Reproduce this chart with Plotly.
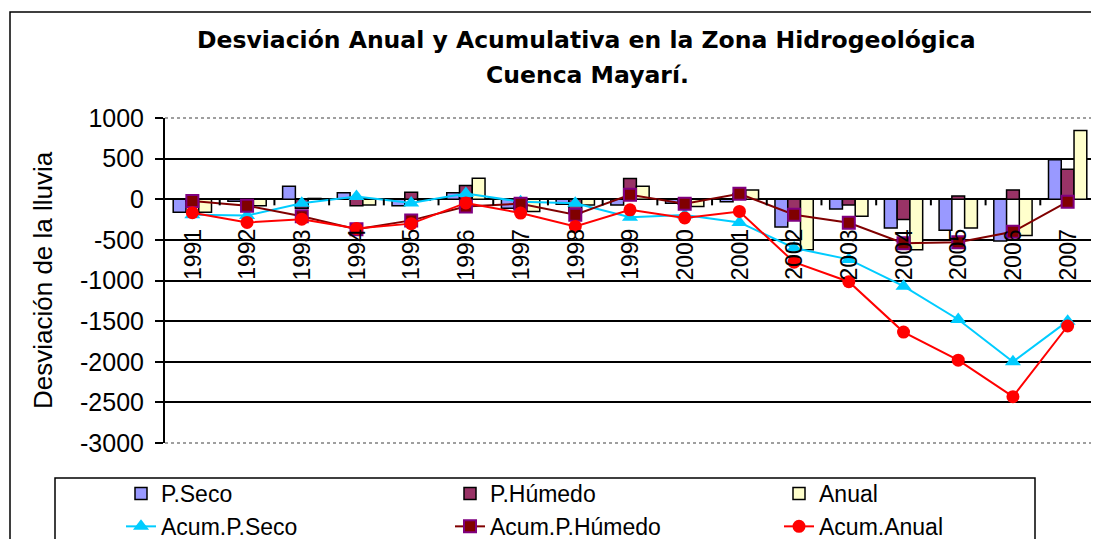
import plotly.graph_objects as go

years = [str(y) for y in range(1991, 2008)]
p_seco = [-160, -25, 160, 80, -80, 80, -110, -60, -70, -50, -30, -340, -120, -355, -380, -515, 485]
p_humedo = [-20, -70, -110, -80, 85, 170, -130, -170, 255, -60, 70, -130, -70, -250, 40, 115, 370]
anual = [-160, -80, 10, -70, -10, 260, -150, -70, 160, -90, 115, -620, -210, -620, -355, -445, 845]
acum_p_seco = [-190, -200, -50, 35, -45, 70, -30, -50, -220, -195, -285, -600, -740, -1070, -1480, -2000, -1500]
acum_p_humedo = [-20, -80, -210, -370, -260, -90, -55, -190, 55, -55, 67, -190, -290, -540, -530, -400, -30]
acum_anual = [-165, -285, -245, -360, -300, -45, -170, -335, -130, -230, -150, -775, -1015, -1635, -1980, -2430, -1560]

y_ticks = [1000, 500, 0, -500, -1000, -1500, -2000, -2500, -3000]

FONT = "Liberation Sans, Arial, sans-serif"
TFONT = "DejaVu Sans, sans-serif"

# page offset (browser body margin)
OFF = 8
W, H = 1099 - OFF, 539 - OFF
PL, PR, PT, PB = 165, 1095, 118, 443   # plot area in screenshot coords
L = PL - OFF
R = W - (PR - OFF)
T = PT - OFF
B = H - (PB - OFF)
pw = PR - PL
ph = PB - PT

def px(x):
    return (x - PL) / pw

def py(y):
    return (PB - y) / ph

fig = go.Figure()
bar_line = dict(color="black", width=1.5)
fig.add_trace(go.Bar(x=years, y=p_seco, name="P.Seco", marker=dict(color="#9999FF", line=bar_line)))
fig.add_trace(go.Bar(x=years, y=p_humedo, name="P.Húmedo", marker=dict(color="#993366", line=bar_line)))
fig.add_trace(go.Bar(x=years, y=anual, name="Anual", marker=dict(color="#FFFFCC", line=bar_line)))

fig.add_trace(go.Scatter(x=years, y=acum_p_seco, name="Acum.P.Seco", mode="lines+markers",
                         line=dict(color="#00CCFF", width=2),
                         marker=dict(symbol="triangle-up", size=14, color="#00CCFF")))
fig.add_trace(go.Scatter(x=years, y=acum_p_humedo, name="Acum.P.Húmedo", mode="lines+markers",
                         line=dict(color="#800000", width=2),
                         marker=dict(symbol="square", size=12, color="#800000",
                                     line=dict(color="#800080", width=2))))
fig.add_trace(go.Scatter(x=years, y=acum_anual, name="Acum.Anual", mode="lines+markers",
                         line=dict(color="#FF0000", width=2),
                         marker=dict(symbol="circle", size=13, color="#FF0000")))

annotations = []
for i, yr in enumerate(years):
    annotations.append(dict(x=i, y=0, xref="x", yref="y", text=yr, showarrow=False,
                            textangle=-90, yanchor="top", xanchor="center", yshift=-28,
                            font=dict(family=FONT, size=23, color="black")))
annotations.append(dict(x=px(586), y=py(40), xref="paper", yref="paper",
                        text="<b>Desviación Anual y Acumulativa en la Zona Hidrogeológica</b>",
                        showarrow=False, xanchor="center", yanchor="middle",
                        font=dict(family=TFONT, size=23.5, color="black")))
annotations.append(dict(x=px(587), y=py(75), xref="paper", yref="paper",
                        text="<b>Cuenca Mayarí.</b>",
                        showarrow=False, xanchor="center", yanchor="middle",
                        font=dict(family=TFONT, size=23.5, color="black")))
annotations.append(dict(x=px(43), y=py(280), xref="paper", yref="paper",
                        text="Desviación de la lluvia", textangle=-90,
                        showarrow=False, xanchor="center", yanchor="middle",
                        font=dict(family=FONT, size=26, color="black")))

shapes = [
    # outer frame
    dict(type="rect", xref="paper", yref="paper", x0=px(10), x1=px(1097), y0=py(620), y1=py(12),
         line=dict(color="black", width=1.5), layer="above"),
    # legend box
    dict(type="rect", xref="paper", yref="paper", x0=px(55), x1=px(1035), y0=py(620), y1=py(478),
         line=dict(color="black", width=1.5), layer="above"),
    # plot area top / bottom dotted borders
    dict(type="line", xref="paper", yref="paper", x0=0, x1=1, y0=1, y1=1,
         line=dict(color="#808080", width=1.5, dash="dot"), layer="above"),
    dict(type="line", xref="paper", yref="paper", x0=0, x1=1, y0=0, y1=0,
         line=dict(color="#808080", width=1.5, dash="dot"), layer="above"),
]
# small category-boundary ticks on the zero line
for i in range(1, len(years)):
    shapes.append(dict(type="line", xref="x", yref="y", x0=i - 0.5, x1=i - 0.5, y0=0, y1=-75,
                       line=dict(color="black", width=2), layer="above"))

fig.update_layout(
    width=W, height=H,
    margin=dict(l=L, r=R, t=T, b=B, pad=0, autoexpand=False),
    paper_bgcolor="white", plot_bgcolor="white",
    font=dict(family=FONT, color="black"),
    barmode="group", bargap=0.3, bargroupgap=0,
    showlegend=True,
    legend=dict(orientation="h", x=px(121), y=py(472), xanchor="left", yanchor="top",
                entrywidth=284, entrywidthmode="pixels", traceorder="normal",
                font=dict(family=FONT, size=23, color="black"),
                bgcolor="rgba(0,0,0,0)", borderwidth=0, itemwidth=30),
    annotations=annotations,
    shapes=shapes,
)
fig.update_xaxes(type="category", range=[-0.5, len(years) - 0.5], showticklabels=False,
                 showgrid=False, zeroline=False, showline=False, ticks="")
fig.update_yaxes(range=[-3000, 1000], tickvals=y_ticks, ticktext=[str(v) for v in y_ticks],
                 showgrid=True, gridcolor="black", gridwidth=1.5,
                 zeroline=True, zerolinecolor="black", zerolinewidth=2,
                 showline=True, linecolor="black", linewidth=2,
                 ticks="outside", ticklen=8, tickcolor="black", tickwidth=2,
                 ticklabelstandoff=6,
                 tickfont=dict(family=FONT, size=25, color="black"))

fig.write_html("out.html", config={"displayModeBar": False})
